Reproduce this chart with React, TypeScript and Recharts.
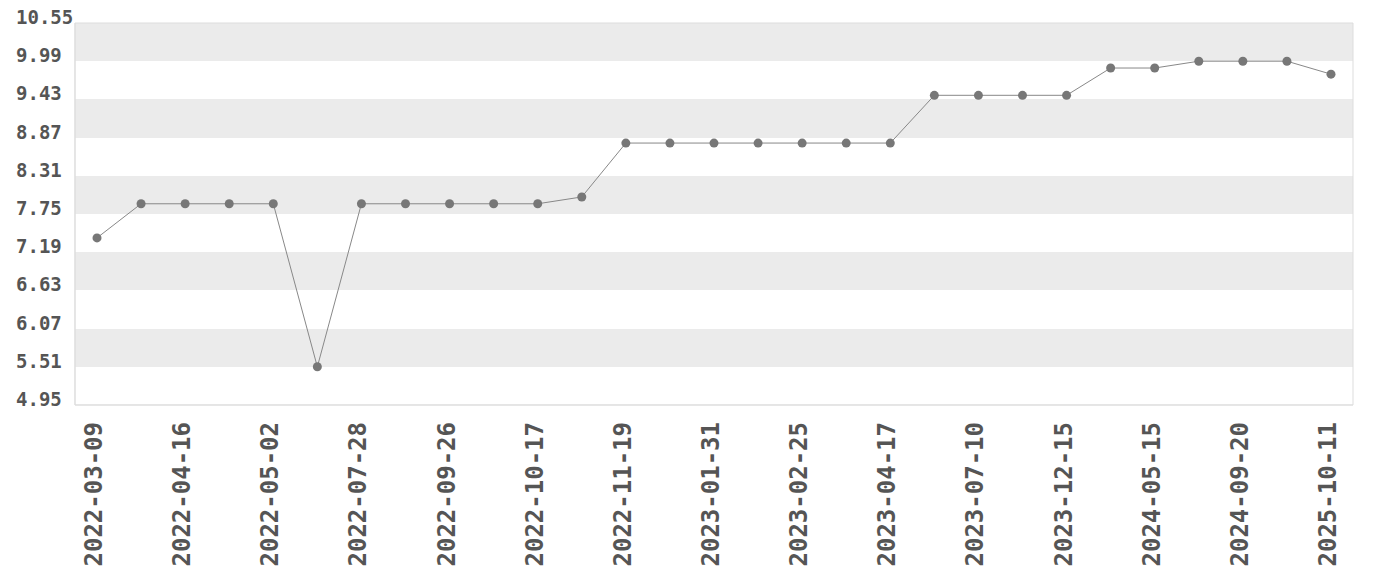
import React from "react";
import { LineChart, Line, XAxis, YAxis, CartesianGrid } from "recharts";

const dates: string[] = [
  "2022-03-09", "2022-03-28", "2022-04-16", "2022-04-24", "2022-05-02",
  "2022-06-15", "2022-07-28", "2022-08-27", "2022-09-26", "2022-10-06",
  "2022-10-17", "2022-11-02", "2022-11-19", "2022-12-25", "2023-01-31",
  "2023-02-12", "2023-02-25", "2023-03-22", "2023-04-17", "2023-05-29",
  "2023-07-10", "2023-09-27", "2023-12-15", "2024-03-01", "2024-05-15",
  "2024-07-18", "2024-09-20", "2025-04-01", "2025-10-11",
];

const values: number[] = [
  7.40, 7.90, 7.90, 7.90, 7.90,
  5.51, 7.90, 7.90, 7.90, 7.90,
  7.90, 8.00, 8.79, 8.79, 8.79,
  8.79, 8.79, 8.79, 8.79, 9.49,
  9.49, 9.49, 9.49, 9.89, 9.89,
  9.99, 9.99, 9.99, 9.80,
];

const yTicks: number[] = [4.95, 5.51, 6.07, 6.63, 7.19, 7.75, 8.31, 8.87, 9.43, 9.99, 10.55];

const data = dates.map((d, i) => ({ date: d, value: values[i] }));

const FONT = "'DejaVu Sans Mono', monospace";
const LABEL = "#555555";

const YTick = (props: any) => {
  const { y, payload } = props;
  return (
    <text x={16} y={y + 1} fill={LABEL} fontSize={19} fontWeight="bold" fontFamily={FONT} textAnchor="start">
      {Number(payload.value).toFixed(2)}
    </text>
  );
};

const XTick = (props: any) => {
  const { x, y, payload } = props;
  const y0 = y + 17;
  return (
    <text
      x={x}
      y={y0}
      dy={5}
      transform={`rotate(-90, ${x}, ${y0})`}
      textAnchor="end"
      fill={LABEL}
      fontSize={24}
      fontWeight="bold"
      fontFamily={FONT}
    >
      {payload.value}
    </text>
  );
};

const borderV = (p: any) => {
  const o = p.offset || {};
  return [o.left, o.left + o.width];
};
const borderH = (p: any) => {
  const o = p.offset || {};
  return [o.top, o.top + o.height];
};

export default function App() {
  return (
    <div style={{ position: "absolute", left: 0, top: 0, background: "#fff" }}>
      <LineChart width={1380} height={580} data={data} margin={{ top: 23, right: 27, left: 0, bottom: 0 }}>
        <CartesianGrid
          vertical={false}
          horizontal={true}
          stroke="none"
          horizontalFill={["#ebebeb", "#ffffff"]}
          fillOpacity={1}
        />
        <CartesianGrid
          stroke="#dddddd"
          strokeWidth={1}
          verticalCoordinatesGenerator={borderV}
          horizontalCoordinatesGenerator={borderH}
        />
        <XAxis
          dataKey="date"
          interval={1}
          height={175}
          tickLine={false}
          tickSize={0}
          tickMargin={0}
          axisLine={{ stroke: "#dddddd" }}
          padding={{ left: 22, right: 22 }}
          tick={<XTick />}
        />
        <YAxis
          domain={[4.95, 10.55]}
          ticks={yTicks}
          width={75}
          interval={0}
          tickLine={false}
          axisLine={{ stroke: "#dddddd" }}
          tick={<YTick />}
        />
        <Line
          type="linear"
          dataKey="value"
          stroke="#888888"
          strokeWidth={1}
          dot={{ r: 4.5, fill: "#777777", stroke: "none" }}
          activeDot={false}
          isAnimationActive={false}
        />
      </LineChart>
    </div>
  );
}
